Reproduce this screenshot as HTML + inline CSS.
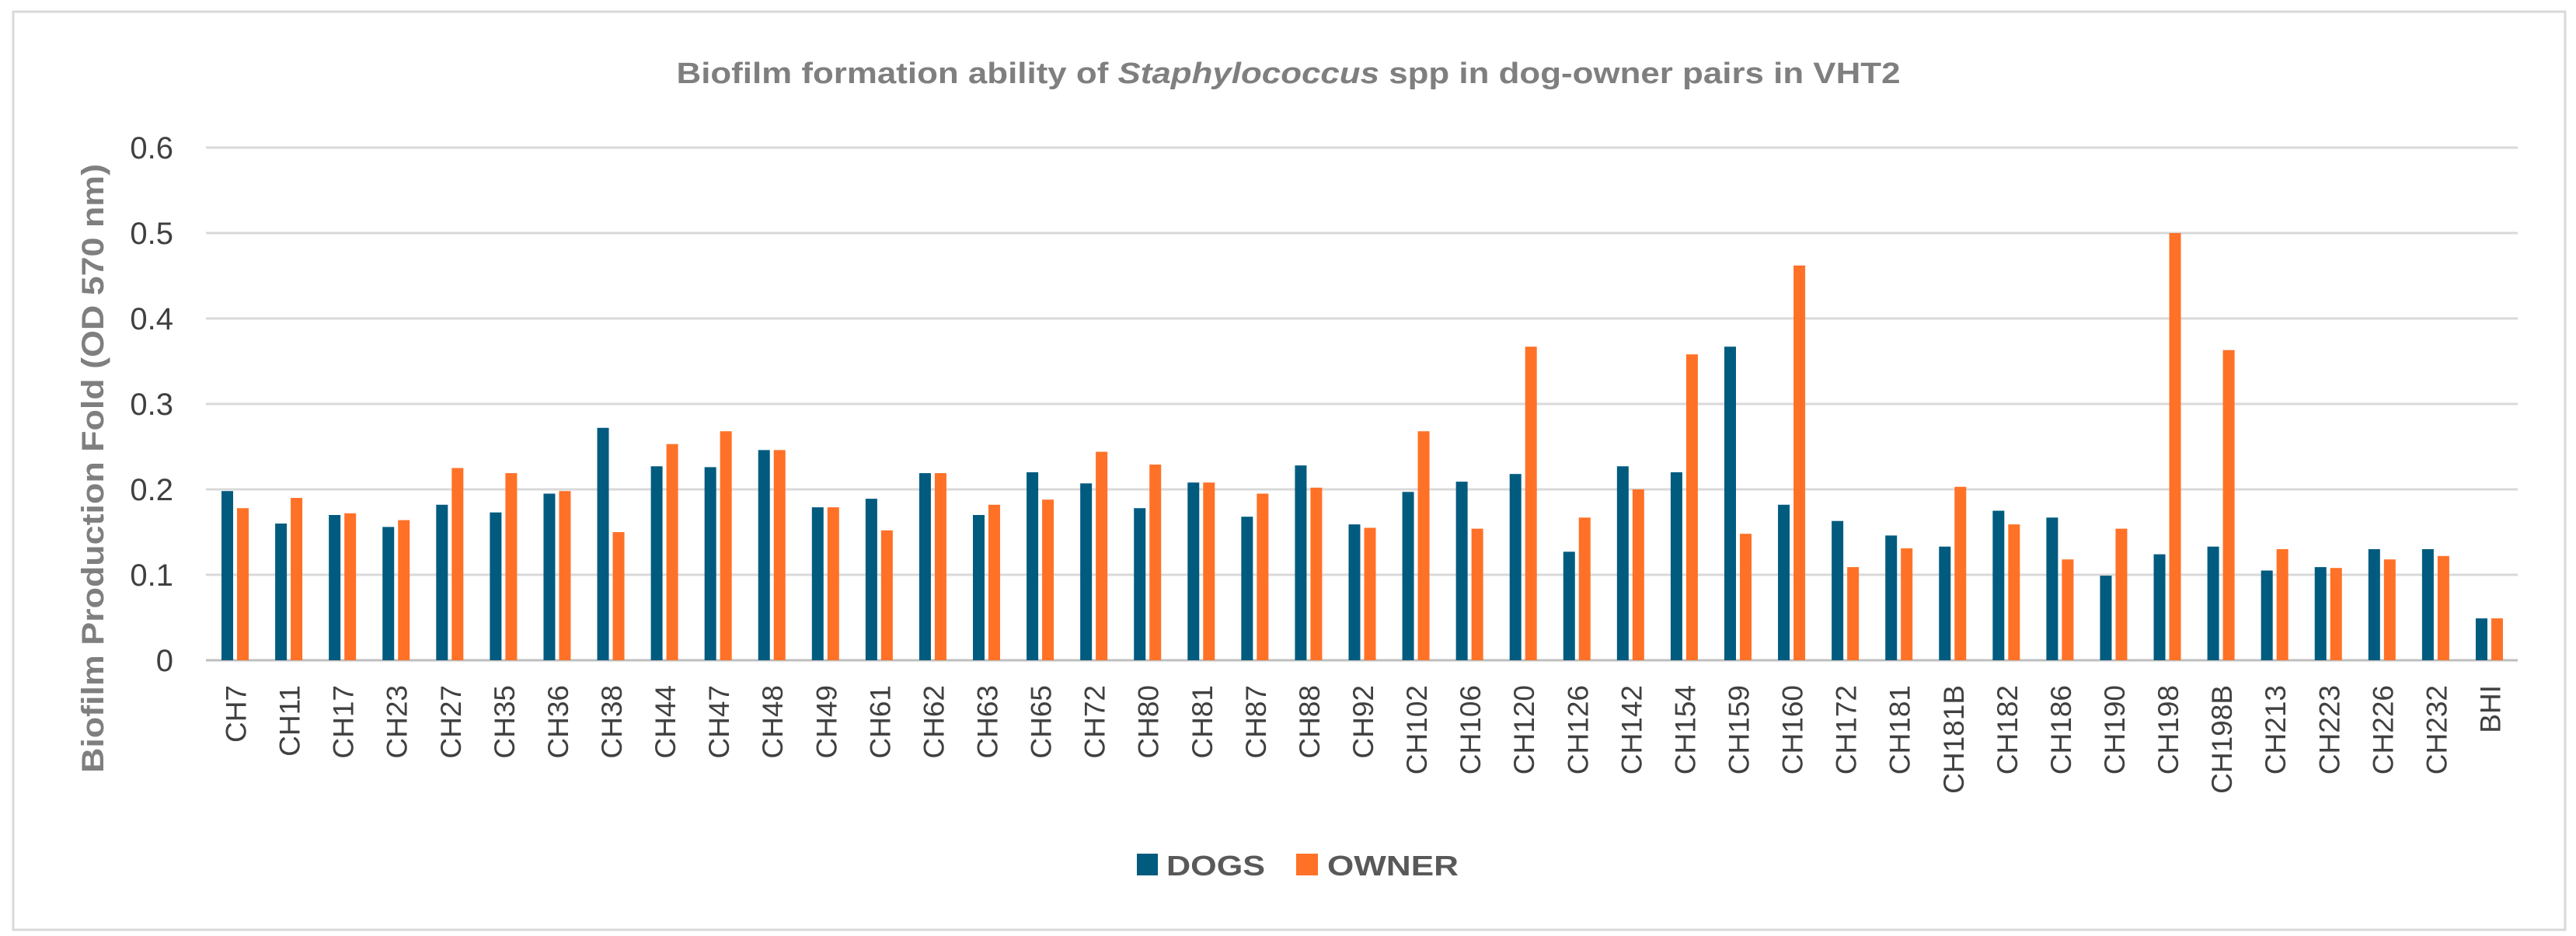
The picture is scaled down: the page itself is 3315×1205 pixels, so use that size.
<!DOCTYPE html>
<html><head><meta charset="utf-8"><style>
html,body{margin:0;padding:0;background:#fff;}
svg{display:block;}
</style></head><body>
<svg id="chart" width="3315" height="1205" xmlns="http://www.w3.org/2000/svg">
<rect x="17" y="15" width="3284" height="1182" fill="#fff" stroke="#d9d9d9" stroke-width="3"/>
<text x="1658" y="107" text-anchor="middle" font-family="Liberation Sans, sans-serif" font-weight="bold" font-size="38" fill="#7f7f7f" textLength="1575" lengthAdjust="spacingAndGlyphs">Biofilm formation ability of <tspan font-style="italic">Staphylococcus</tspan> spp in dog-owner pairs in VHT2</text>
<text transform="translate(133,603) rotate(-90)" text-anchor="middle" font-family="Liberation Sans, sans-serif" font-weight="bold" font-size="40" fill="#7f7f7f" textLength="784" lengthAdjust="spacingAndGlyphs">Biofilm  Production Fold (OD 570 nm)</text>
<g id="grid"></g>
<g id="bars"></g>
<g id="xlabels"></g>
<g>
<rect x="1463" y="1099" width="27" height="28" fill="#005b7f"/>
<text x="1501" y="1127" font-family="Liberation Sans, sans-serif" font-weight="bold" font-size="36" fill="#595959" textLength="127" lengthAdjust="spacingAndGlyphs">DOGS</text>
<rect x="1668" y="1099" width="28" height="28" fill="#ff7127"/>
<text x="1708" y="1127" font-family="Liberation Sans, sans-serif" font-weight="bold" font-size="36" fill="#595959" textLength="169" lengthAdjust="spacingAndGlyphs">OWNER</text>
</g>
</svg>
<script>
const categories = ["CH7","CH11","CH17","CH23","CH27","CH35","CH36","CH38","CH44","CH47","CH48","CH49","CH61","CH62","CH63","CH65","CH72","CH80","CH81","CH87","CH88","CH92","CH102","CH106","CH120","CH126","CH142","CH154","CH159","CH160","CH172","CH181","CH181B","CH182","CH186","CH190","CH198","CH198B","CH213","CH223","CH226","CH232","BHI"];
const dogs = [0.198,0.160,0.170,0.156,0.182,0.173,0.195,0.272,0.227,0.226,0.246,0.179,0.189,0.219,0.170,0.220,0.207,0.178,0.208,0.168,0.228,0.159,0.197,0.209,0.218,0.127,0.227,0.220,0.367,0.182,0.163,0.146,0.133,0.175,0.167,0.099,0.124,0.133,0.105,0.109,0.130,0.130,0.049];
const owner = [0.178,0.190,0.172,0.164,0.225,0.219,0.198,0.150,0.253,0.268,0.246,0.179,0.152,0.219,0.182,0.188,0.244,0.229,0.208,0.195,0.202,0.155,0.268,0.154,0.367,0.167,0.200,0.358,0.148,0.462,0.109,0.131,0.203,0.159,0.118,0.154,0.500,0.363,0.130,0.108,0.118,0.122,0.049];
const yTicks = [0,0.1,0.2,0.3,0.4,0.5,0.6];
const yTickLabels = ["0","0.1","0.2","0.3","0.4","0.5","0.6"];

const NS="http://www.w3.org/2000/svg";
const y0=850, yTop=190, yMax=0.6;
const xL=268, xR=3238;
function yScale(v){return y0-(v/yMax)*(y0-yTop);}
const band=(xR-xL)/categories.length;
function xCenter(i){return xL+band*(i+0.5);}
function mk(tag,attrs){const e=document.createElementNS(NS,tag);for(const k in attrs)e.setAttribute(k,attrs[k]);return e;}

const grid=document.getElementById('grid');
yTicks.forEach((t,i)=>{
  const y=yScale(t);
  const l=mk('line',{x1:265,x2:3240,y1:y,y2:y,stroke:i===0?'#bfbfbf':'#d9d9d9','stroke-width':3});
  
  
  grid.appendChild(l);
  const tx=mk('text',{x:223,y:y+14,'text-anchor':'end','font-family':'Liberation Sans, sans-serif','font-size':40,fill:'#404040'});
  tx.textContent=yTickLabels[i];
  
  
  grid.appendChild(tx);
});

const bars=document.getElementById('bars');
const xl=document.getElementById('xlabels');
const bw=15, gap=5;
categories.forEach((c,i)=>{
  const cx=xCenter(i);
  const yd=yScale(dogs[i]);
  const rd=mk('rect',{x:cx-gap/2-bw,y:yd,width:bw,height:y0-yd,fill:'#005b7f'});
  
  
  bars.appendChild(rd);
  const yo=yScale(owner[i]);
  const ro=mk('rect',{x:cx+gap/2,y:yo,width:bw,height:y0-yo,fill:'#ff7127'});
  
  
  bars.appendChild(ro);
  const t=mk('text',{transform:'translate('+(cx+14)+',882) rotate(-90)','text-anchor':'end','font-family':'Liberation Sans, sans-serif','font-size':37,fill:'#404040'});
  t.textContent=c;
  
  
  xl.appendChild(t);
});
</script>
</body></html>
